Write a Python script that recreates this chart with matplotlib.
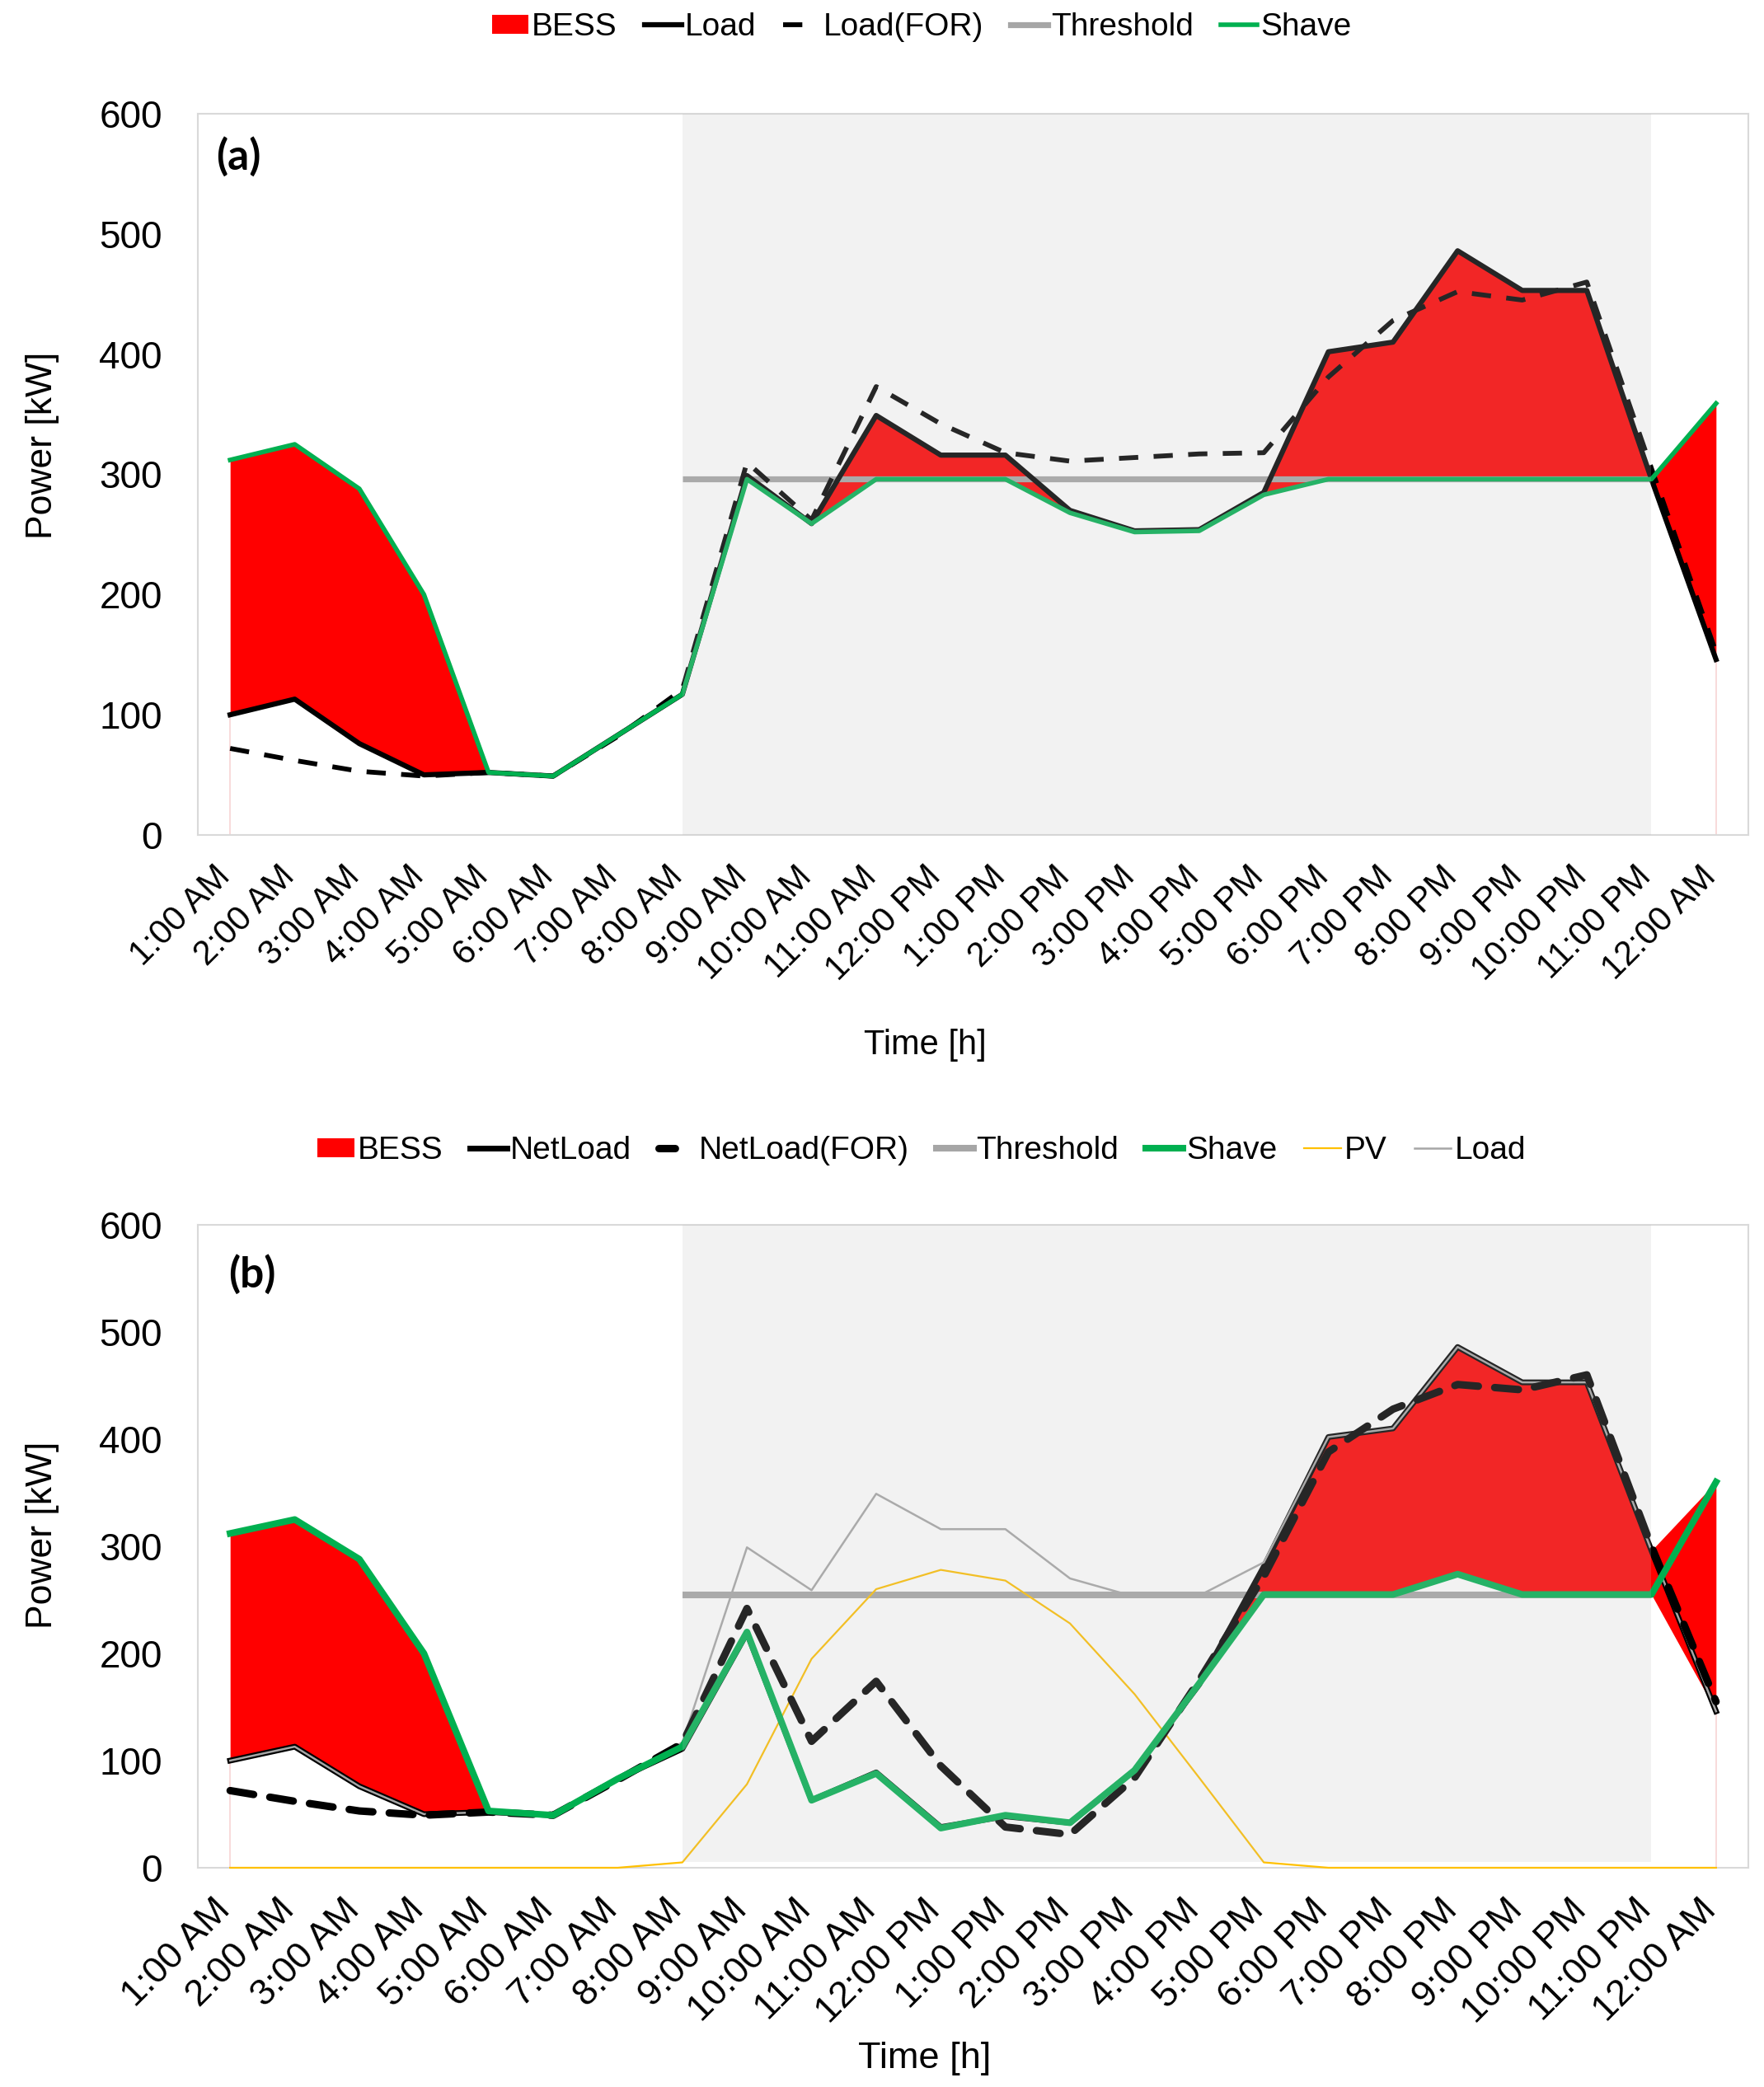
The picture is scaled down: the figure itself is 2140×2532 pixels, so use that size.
"""
Peak shaving with BESS: (a) load only, (b) load with PV.
Two stacked panels, hourly values read from the figure.
"""

import numpy as np
import matplotlib
matplotlib.use("Agg")
import matplotlib.pyplot as plt
import matplotlib.transforms as mtransforms
from matplotlib.lines import Line2D
from matplotlib.patches import Patch

plt.rcParams["font.family"] = ["Liberation Sans", "DejaVu Sans"]

HOURS = ["1:00 AM", "2:00 AM", "3:00 AM", "4:00 AM", "5:00 AM", "6:00 AM",
         "7:00 AM", "8:00 AM", "9:00 AM", "10:00 AM", "11:00 AM", "12:00 PM",
         "1:00 PM", "2:00 PM", "3:00 PM", "4:00 PM", "5:00 PM", "6:00 PM",
         "7:00 PM", "8:00 PM", "9:00 PM", "10:00 PM", "11:00 PM", "12:00 AM"]

# panel (a)
LOAD = [100, 113, 76, 50, 52, 49, 83, 117, 299, 259, 349, 316,
        316, 270, 253, 254, 285, 402, 410, 486, 453, 453, 296, 146]
LOAD_FOR = [72, 62, 53, 49, 52, 49, 82, 121, 310, 262, 373, 342,
            318, 311, 314, 317, 318, 381, 428, 452, 445, 460, 305, 152]
SHAVE_A = [312, 325, 288, 200, 52, 49, 83, 117, 296, 259, 296, 296,
           296, 268, 252, 253, 283, 296, 296, 296, 296, 296, 296, 359]
THRESH_A = [np.nan] * 7 + [296] * 16 + [np.nan]

# panel (b)
NETLOAD = [100, 113, 76, 50, 52, 49, 83, 111, 219, 63, 89, 38,
           48, 42, 91, 171, 281, 402, 410, 486, 453, 453, 296, 146]
NETLOAD_FOR = [72, 62, 53, 49, 52, 49, 82, 116, 242, 118, 174, 95,
               38, 31, 84, 175, 272, 388, 428, 451, 446, 460, 300, 155]
SHAVE_B = [312, 325, 288, 200, 53, 49, 83, 113, 220, 63, 88, 37,
           49, 42, 91, 172, 255, 255, 255, 274, 255, 255, 255, 360]
THRESH_B = [np.nan] * 7 + [255] * 16 + [np.nan]
PV = [0, 0, 0, 0, 0, 0, 0, 5, 78, 195, 260, 278,
      268, 228, 162, 84, 5, 0, 0, 0, 0, 0, 0, 0]

# hours covered by the grey band (8:00 AM .. 11:00 PM)
BAND = (7, 22)

RED = "#FF0000"
GREEN = "#00B050"
GREY = "#A6A6A6"
GOLD = "#FFC000"

W, H = 2140, 2532


def base_axes(ax, xfs):
    x = np.arange(len(HOURS))
    ax.set_xlim(-0.5, len(HOURS) - 0.5)
    ax.set_ylim(0, 600)
    ax.set_yticks(range(0, 601, 100))
    ax.set_xticks(x)
    ax.set_xticklabels(HOURS, rotation=45, ha="right", fontsize=xfs)
    ax.tick_params(axis="y", length=0, pad=31, labelsize=33)
    ax.tick_params(axis="x", length=0, pad=22)
    off = mtransforms.ScaledTranslation(0.08, 0, ax.figure.dpi_scale_trans)
    for lab in ax.get_xticklabels():
        lab.set_transform(lab.get_transform() + off)
    for s in ax.spines.values():
        s.set_color("#D9D9D9")
        s.set_linewidth(1.5)
    return x


def bess_fill(ax, x, load, shave):
    load = np.array(load, float)
    shave = np.array(shave, float)
    lo = np.minimum(load, shave)
    hi = np.maximum(load, shave)
    ax.fill_between(x, lo, hi, color=RED, lw=0, zorder=1)
    # faint edges of the transparent base area
    ax.vlines([x[0], x[-1]], 0, [lo[0], lo[-1]], color="#F7D4D4", lw=1.2, zorder=1)


fig = plt.figure(figsize=(W / 100, H / 100), dpi=100)
ax_a = fig.add_axes([240 / W, 1 - 1013 / H, 1881 / W, 875 / H])
ax_b = fig.add_axes([240 / W, 1 - 2266 / H, 1881 / W, 780 / H])

# ---- (a) -------------------------------------------------------------------
x = base_axes(ax_a, 30)
bess_fill(ax_a, x, LOAD, SHAVE_A)
ax_a.plot(x, THRESH_A, color=GREY, lw=5.2, zorder=2, solid_capstyle="butt")
ax_a.plot(x, LOAD, color="black", lw=4.5, zorder=3)
ax_a.plot(x, LOAD_FOR, color="black", lw=4.2, dashes=(4, 3.2), zorder=3)
ax_a.plot(x, SHAVE_A, color=GREEN, lw=4, zorder=4)
ax_a.axvspan(*BAND, color="#BFBFBF", alpha=0.2, lw=0, zorder=5)
ax_a.text(0.0117, 0.968, "(a)", transform=ax_a.transAxes, ha="left", va="top",
          fontsize=37, fontweight="bold", family=["Lato", "DejaVu Sans"])
ax_a.set_ylabel("Power [kW]", fontsize=32)
ax_a.yaxis.set_label_coords(-0.0893, 0.5406)
ax_a.set_xlabel("Time [h]", fontsize=30)
ax_a.xaxis.set_label_coords(0.469, -0.2686)

hand_a = [Patch(facecolor=RED, edgecolor="none"),
          Line2D([], [], color="black", lw=4.5),
          Line2D([], [], color="black", lw=4.2, dashes=(4, 6)),
          Line2D([], [], color=GREY, lw=5.2),
          Line2D([], [], color=GREEN, lw=4)]
fig.legend(hand_a, ["BESS", "Load", "Load(FOR)", "Threshold", "Shave"],
           loc="center", bbox_to_anchor=(1118 / W, 1 - 33 / H), ncol=5,
           frameon=False, fontsize=28, handlelength=1.15, handleheight=0.55,
           handletextpad=0.1, columnspacing=0.85, borderpad=0)

# ---- (b) -------------------------------------------------------------------
x = base_axes(ax_b, 32.5)
bess_fill(ax_b, x, NETLOAD, SHAVE_B)
ax_b.plot(x, THRESH_B, color=GREY, lw=5.8, zorder=2, solid_capstyle="butt")
ax_b.plot(x, PV, color=GOLD, lw=1.6, zorder=3, clip_on=False)
ax_b.plot(x, NETLOAD, color="black", lw=5, zorder=3)
ax_b.plot(x, LOAD, color=GREY, lw=1.8, zorder=3)
ax_b.plot(x, NETLOAD_FOR, color="black", lw=6.5, dashes=(3.2, 2.2),
          dash_capstyle="round", zorder=3)
ax_b.plot(x, SHAVE_B, color=GREEN, lw=5.8, zorder=4)
ax_b.axvspan(*BAND, ymin=0.009, ymax=1.0, color="#BFBFBF", alpha=0.2, lw=0, zorder=5)
ax_b.text(0.0197, 0.954, "(b)", transform=ax_b.transAxes, ha="left", va="top",
          fontsize=37, fontweight="bold", family=["Lato", "DejaVu Sans"])
ax_b.set_ylabel("Power [kW]", fontsize=32)
ax_b.yaxis.set_label_coords(-0.0893, 0.518)
ax_b.set_xlabel("Time [h]", fontsize=32.5)
ax_b.xaxis.set_label_coords(0.4685, -0.2705)

hand_b = [Patch(facecolor=RED, edgecolor="none"),
          Line2D([], [], color="black", lw=5),
          Line2D([], [], color="black", lw=6.5, dashes=(2.2, 4), dash_capstyle="round"),
          Line2D([], [], color=GREY, lw=5.8),
          Line2D([], [], color=GREEN, lw=5.8),
          Line2D([], [], color=GOLD, lw=1.6),
          Line2D([], [], color=GREY, lw=1.8)]
fig.legend(hand_b, ["BESS", "NetLoad", "NetLoad(FOR)", "Threshold", "Shave", "PV", "Load"],
           loc="center", bbox_to_anchor=(1118 / W, 1 - 1396 / H), ncol=7,
           frameon=False, fontsize=28, handlelength=1.15, handleheight=0.55,
           handletextpad=0.1, columnspacing=0.85, borderpad=0)

fig.savefig("out.png", dpi=100)
